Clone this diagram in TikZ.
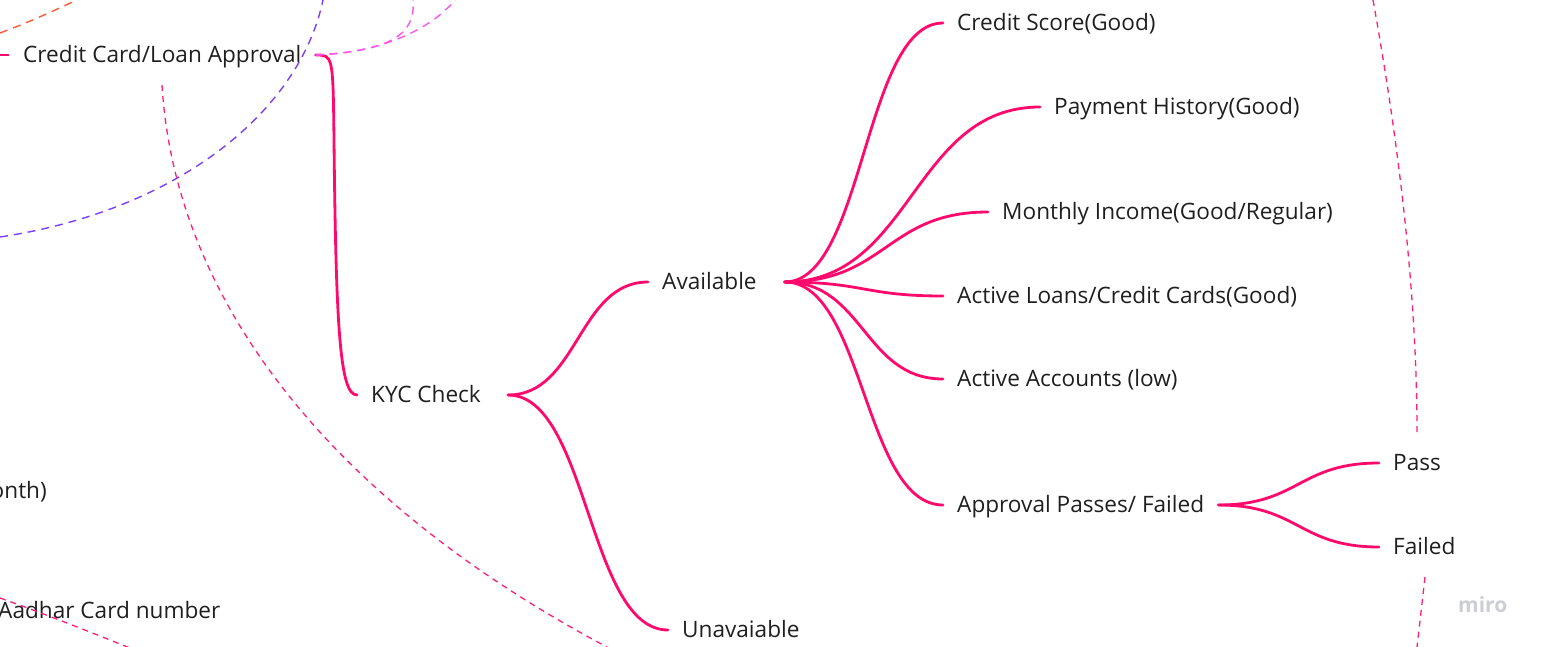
\documentclass[tikz,border=0pt]{standalone}
\usepackage{fontspec}
\setmainfont{Open Sans}
\usepackage{tikz}
\usetikzlibrary{calc,positioning}
\definecolor{mapPink}{HTML}{FF0A6C}
\definecolor{linkPink}{HTML}{FF1F7A}
\definecolor{linkPurple}{HTML}{7B3FFF}
\definecolor{linkMagenta}{HTML}{FF55F0}
\definecolor{linkOrange}{HTML}{FF5A36}
\definecolor{ink}{HTML}{1F1F1F}
\definecolor{logoGray}{HTML}{CDCDD6}
\tikzset{
  % Base styles
  map base/.style={x=1pt, y=-1pt, every node/.style={font=\fontsize{22.6}{27}\selectfont}},
  % Mind map topics
  topic/.style={anchor=west, inner xsep=14pt, inner ysep=0pt, text height=15pt, text depth=0pt, text=ink},
  topic left/.style={topic, anchor=east},
  % Branches (horizontal at both ends)
  branch/.style={draw=mapPink, line width=2.8pt, line cap=round,
    to path={let \p1=(\tikztostart), \p2=(\tikztotarget) in
      .. controls ({(\x1+\x2)/2},\y1) and ({(\x1+\x2)/2},\y2) .. (\tikztotarget) \tikztonodes}},
  % Cross links of the board
  pink link/.style={draw=linkPink, line width=1.3pt, dash pattern=on 6pt off 5pt},
  purple link/.style={draw=linkPurple, line width=1.4pt, dash pattern=on 8pt off 6pt},
  magenta link/.style={draw=linkMagenta, line width=1.4pt, dash pattern=on 8pt off 6pt},
  orange link/.style={draw=linkOrange, line width=1.4pt, dash pattern=on 8pt off 6pt},
  % Watermark
  logo/.style={text=logoGray, font=\fontsize{21}{25}\selectfont\bfseries, inner sep=0pt},
}

\begin{document}
\begin{tikzpicture}[map base]
\useasboundingbox (0,0) rectangle (1543,647);

% Topics
\node[topic] (credit) at (9,55) {Credit Card/Loan Approval};
\node[topic] (kyc) at (357,395) {KYC Check};
\node[topic] (avail) at (648,282) {Available};
\node[topic] (unavail) at (668,630) {Unavaiable};
\node[topic] (score) at (943,23) {Credit Score(Good)};
\node[topic] (history) at (1040,107) {Payment History(Good)};
\node[topic] (income) at (988,212) {Monthly Income(Good/Regular)};
\node[topic] (loans) at (943,296) {Active Loans/Credit Cards(Good)};
\node[topic] (accounts) at (943,379) {Active Accounts (low)};
\node[topic] (approval) at (943,505) {Approval Passes/ Failed};
\node[topic] (pass) at (1379,463) {Pass};
\node[topic] (failed) at (1379,547) {Failed};

% Topics cut by the frame
\node[topic left] (month) at (61,491) {onth)};
\node[topic] (aadhar) at (-16,611) {Aadhar Card number};
\coordinate (credit tail) at (0,55);

% Branches
\draw[draw=mapPink, line width=2.8pt] (credit tail) -- (credit.west);
\draw[branch, to path={}] (credit.east) .. controls (333,55) and (333,55) .. (334,140)
  .. controls (336,330) and (340,395) .. (kyc.west);
\draw[branch] ([xshift=13pt]kyc.east) to (avail.west);
\draw[branch] ([xshift=13pt]kyc.east) to (unavail.west);
\foreach \leaf in {score,history,income,loans,accounts,approval}
  \draw[branch] ([xshift=14pt]avail.east) to (\leaf.west);
\draw[branch] (approval.east) to (pass.west);
\draw[branch] (approval.east) to (failed.west);

% Cross links (ends outside the frame)
\coordinate (orange a) at (0,33);
\coordinate (orange b) at (77,0);
\coordinate (purple a) at (0,237);
\coordinate (purple b) at (323,0);
\coordinate (magenta a) at (455,0);
\coordinate (magenta b) at (413,0);
\coordinate (pink a) at (162,85);
\coordinate (pink b) at (607,647);
\coordinate (right a) at (1373,0);
\coordinate (right b) at (1417,432);
\coordinate (low a) at (1425,577);
\coordinate (low b) at (1417,647);
\coordinate (aadhar a) at (0,598);
\coordinate (aadhar b) at (130,648);

\draw[orange link] (orange a) .. controls (30,22) and (55,10) .. (orange b);
\draw[purple link] (purple a) .. controls (180,210) and (300,110) .. (purple b);
\draw[magenta link] (credit.east) .. controls (380,53) and (430,30) .. (magenta a);
\draw[magenta link] (credit.east) .. controls (390,51) and (416,35) .. (magenta b);
\draw[pink link] (pink a) .. controls (175,300) and (330,500) .. (pink b);
\draw[pink link] (right a) .. controls (1400,150) and (1417,300) .. (right b);
\draw[pink link] (low a) -- (low b);
\draw[pink link] (aadhar a) .. controls (40,612) and (90,632) .. (aadhar b);

% Watermark
\node[logo, anchor=west] (miro) at (1458,605) {miro};
\end{tikzpicture}
\end{document}
